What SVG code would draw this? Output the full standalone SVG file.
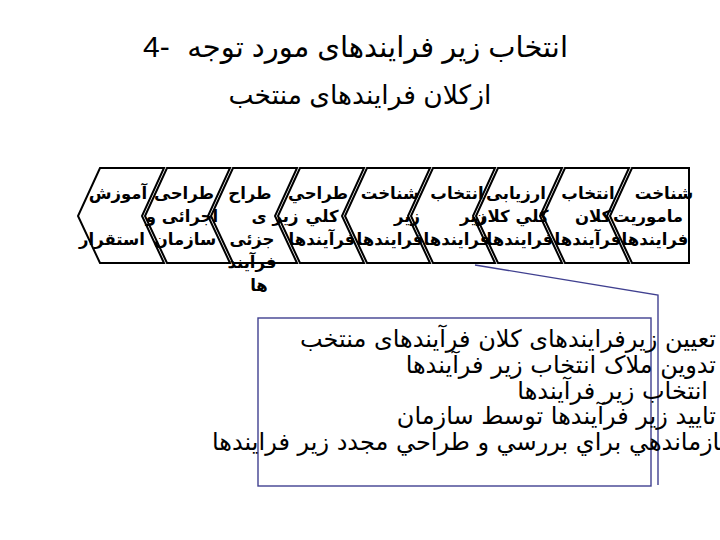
<svg xmlns="http://www.w3.org/2000/svg" width="720" height="540" viewBox="0 0 720 540">
<style>
.chev{fill:none;stroke:#000;stroke-width:2;stroke-linejoin:miter}
.ct{font-family:"DejaVu Sans",sans-serif;font-weight:bold;font-size:16.5px;fill:#000;text-anchor:middle}
.title{font-family:"Liberation Sans","DejaVu Sans",sans-serif;font-size:29px;fill:#000}
.body{font-family:"DejaVu Sans",sans-serif;font-size:24px;fill:#000;text-anchor:end}
.call{fill:none;stroke:#404090;stroke-width:1.4}
</style>
<rect width="720" height="540" fill="#fff"/>
<g id="title">
<text class="title" x="143" y="57" text-anchor="start" style="font-size:30px">4-</text>
<text class="title" x="568" y="57" text-anchor="end">انتخاب زیر  فرایندهای مورد توجه</text>
<text class="title" x="360" y="104" text-anchor="middle" style="font-size:26.5px">ازکلان فرایندهای منتخب</text>
</g>
<g id="chevrons">
<g id="s9"><polygon class="chev" points="100,168 164,168 142,216 164,263 100,263 78,216"/>
<text class="ct" x="118" y="199">آموزش</text>
<text class="ct" x="112" y="245">استقرار</text></g>
<g id="s8"><polygon class="chev" points="167,168 230,168 208,216 230,263 167,263 145,216"/>
<text class="ct" x="184" y="199">طراحی</text>
<text class="ct" x="182" y="222">اجرائی و</text>
<text class="ct" x="185" y="245">سازمان</text></g>
<g id="s7"><polygon class="chev" points="233,168 297,168 275,216 297,263 233,263 211,216"/>
<text class="ct" x="250" y="199">طراح</text>
<text class="ct" x="275" y="222">زير ی</text>
<text class="ct" x="252" y="245">جزئی</text>
<text class="ct" x="252" y="268">فرآيند</text>
<text class="ct" x="259" y="291">ها</text></g>
<g id="s6"><polygon class="chev" points="300,168 364,168 342,216 364,263 300,263 278,216"/>
<text class="ct" x="318" y="199">طراحي</text>
<text class="ct" x="322" y="222">كلي</text>
<text class="ct" x="322" y="245">فرآيندها</text></g>
<g id="s5"><polygon class="chev" points="367,168 430,168 408,216 430,263 367,263 345,216"/>
<text class="ct" x="390" y="199">شناخت</text>
<text class="ct" x="407" y="222">زير</text>
<text class="ct" x="390" y="245">فرايندها</text></g>
<g id="s4"><polygon class="chev" points="433,168 495,168 473,216 495,263 433,263 411,216"/>
<text class="ct" x="457" y="199">انتخاب</text>
<text class="ct" x="473" y="222">زير</text>
<text class="ct" x="457" y="245">فرايندها</text></g>
<g id="s3"><polygon class="chev" points="498,168 562,168 540,216 562,263 498,263 476,216"/>
<text class="ct" x="516" y="199">ارزيابی</text>
<text class="ct" x="511" y="222">كلي كلان</text>
<text class="ct" x="520" y="245">فرايندها</text></g>
<g id="s2"><polygon class="chev" points="565,168 629,168 607,216 629,263 565,263 543,216"/>
<text class="ct" x="588" y="199">انتخاب</text>
<text class="ct" x="593" y="222">كلان</text>
<text class="ct" x="588" y="245">فرآيندها</text></g>
<g id="s1"><polygon class="chev" points="632,168 689,168 689,263 632,263 610,216"/>
<text class="ct" x="664" y="199">شناخت</text>
<text class="ct" x="648" y="222">ماموريت</text>
<text class="ct" x="655" y="245">فرايندها</text></g>
</g>
<g id="connectors">
<polyline class="call" points="475,265 658,295 658,485"/>
</g>
<g id="callout">
<rect class="call" x="258" y="318" width="393" height="168"/>
<text class="body" x="716" y="347">تعیین زیرفرایندهای کلان فرآیندهای منتخب</text>
<text class="body" x="716" y="373">تدوین ملاک انتخاب زیر فرآیندها</text>
<text class="body" x="708" y="399">انتخاب زیر فرآیندها</text>
<text class="body" x="716" y="424">تایید زیر فرآیندها توسط سازمان</text>
<text class="body" x="740" y="450">سازماندهي براي بررسي و طراحي مجدد زير فرايندها</text>
</g>
</svg>
